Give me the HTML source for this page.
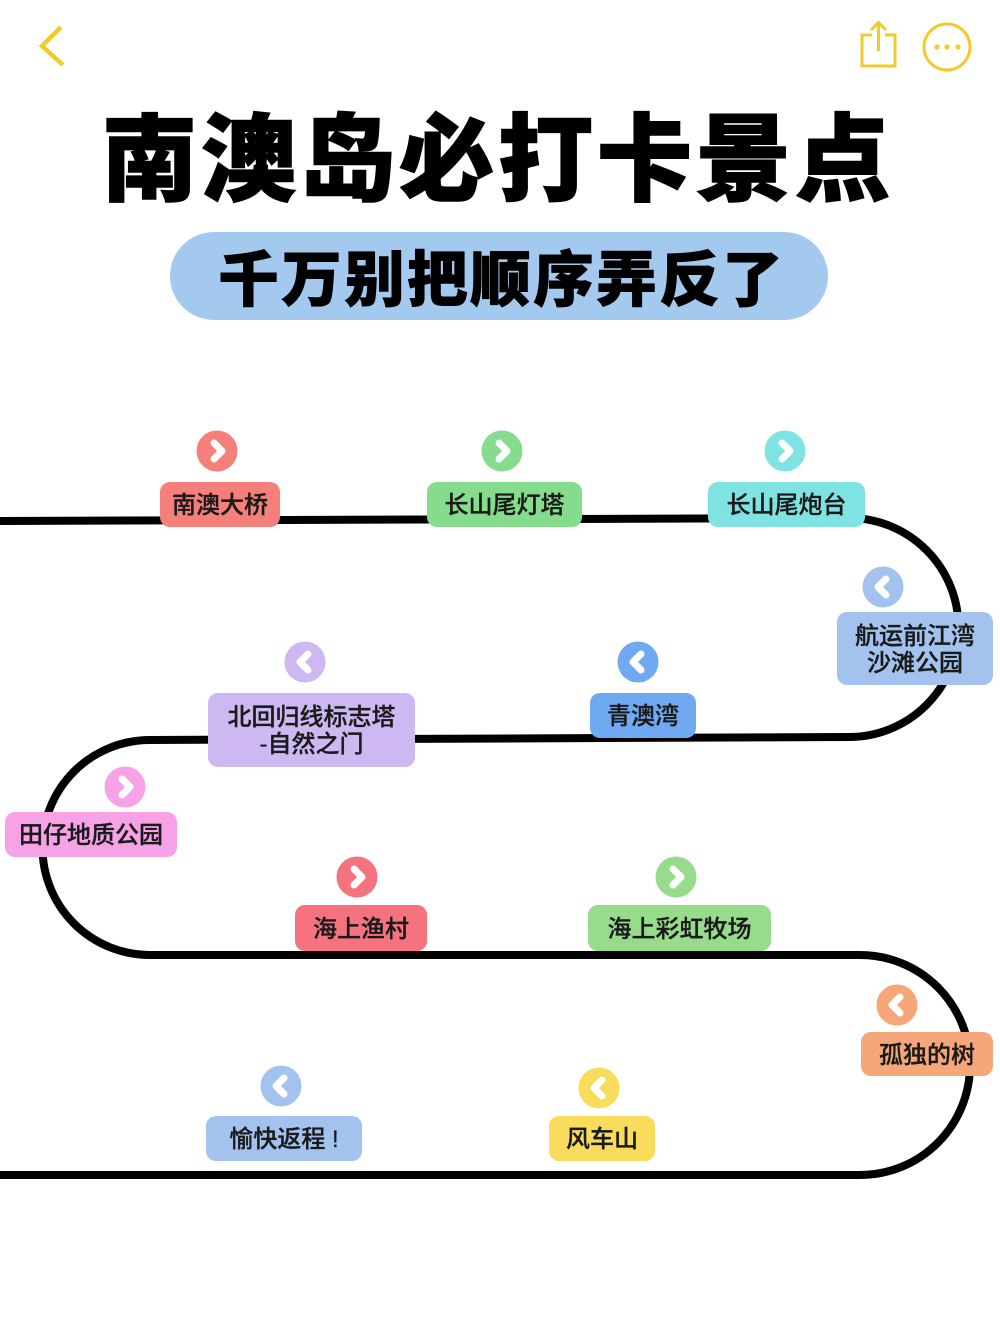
<!DOCTYPE html>
<html>
<head>
<meta charset="utf-8">
<style>
  html,body{margin:0;padding:0;background:#fff;}
  body{width:1000px;height:1333px;position:relative;overflow:hidden;
       font-family:"Liberation Sans","Noto Sans CJK SC",sans-serif;}
  .title{position:absolute;left:0;top:111px;width:996px;text-align:center;
         font-size:95px;line-height:100px;font-weight:900;color:#000;letter-spacing:4px;
         -webkit-text-stroke:1.5px #000;white-space:nowrap;
         font-family:"Liberation Sans","Noto Sans CJK SC",sans-serif;}
  .pill{position:absolute;left:170px;top:232px;width:658px;height:88px;
        background:#A4C9EF;border-radius:44px;}
  .sub{position:absolute;left:0;top:249px;width:1004px;text-align:center;
       font-size:60px;line-height:63px;font-weight:900;color:#000;letter-spacing:3px;
       -webkit-text-stroke:1px #000;white-space:nowrap;
       font-family:"Liberation Sans","Noto Sans CJK SC",sans-serif;}
  .lb{position:absolute;border-radius:10px;display:flex;align-items:center;
      justify-content:center;text-align:center;font-size:24px;line-height:27px;
      color:#1a1a1a;font-weight:500;white-space:nowrap;padding-top:2px;box-sizing:border-box;
      -webkit-text-stroke:0.3px #1a1a1a;
      font-family:"Liberation Sans","Noto Sans CJK SC",sans-serif;}
  svg{position:absolute;left:0;top:0;}
</style>
</head>
<body>
<svg width="1000" height="1333" viewBox="0 0 1000 1333">
  <!-- top bar icons -->
  <polyline points="61,27 42,46 63,65" fill="none" stroke="#EFCB2E" stroke-width="4.5" stroke-linejoin="miter"/>
  <path d="M872,35 H862 V66 H895 V35 H885" fill="none" stroke="#EFCB2E" stroke-width="3"/>
  <line x1="878.5" y1="23" x2="878.5" y2="51" stroke="#EFCB2E" stroke-width="3"/>
  <polyline points="871,30 878.5,22.5 886,30" fill="none" stroke="#EFCB2E" stroke-width="3"/>
  <circle cx="947" cy="47" r="23" fill="none" stroke="#EFCB2E" stroke-width="3"/>
  <circle cx="937" cy="47" r="2.6" fill="#EFCB2E"/>
  <circle cx="947" cy="47" r="2.6" fill="#EFCB2E"/>
  <circle cx="958" cy="47" r="2.6" fill="#EFCB2E"/>

  <!-- route path -->
  <path d="M0,521 L849,518 A109,109 0 0 1 849,737 L150,740 A107.5,107.5 0 0 0 150,955 L860,955 A110,110 0 0 1 860,1175 L0,1175"
        fill="none" stroke="#000" stroke-width="8"/>

  <!-- icons -->
  <g stroke="#fff" stroke-width="7" fill="none" stroke-linecap="round" stroke-linejoin="round">
    <circle cx="217" cy="451" r="20.5" fill="#F57F7A" stroke="none"/>
    <polyline points="214,443 222,451 214,459"/>
    <circle cx="502" cy="451" r="20.5" fill="#84DC8C" stroke="none"/>
    <polyline points="499,443 507,451 499,459"/>
    <circle cx="785" cy="451" r="20.5" fill="#80E3E3" stroke="none"/>
    <polyline points="782,443 790,451 782,459"/>
    <circle cx="883" cy="587" r="20.5" fill="#A3C3EE" stroke="none"/>
    <polyline points="886,579 878,587 886,595"/>
    <circle cx="638" cy="662" r="20.5" fill="#6EA9F2" stroke="none"/>
    <polyline points="641,654 633,662 641,670"/>
    <circle cx="305" cy="662" r="20.5" fill="#CDB8F2" stroke="none"/>
    <polyline points="308,654 300,662 308,670"/>
    <circle cx="125" cy="787" r="20.5" fill="#F7A1E6" stroke="none"/>
    <polyline points="122,779 130,787 122,795"/>
    <circle cx="357" cy="877" r="20.5" fill="#F5737F" stroke="none"/>
    <polyline points="354,869 362,877 354,885"/>
    <circle cx="676" cy="877" r="20.5" fill="#96DC8A" stroke="none"/>
    <polyline points="673,869 681,877 673,885"/>
    <circle cx="897" cy="1005" r="20.5" fill="#F6A77A" stroke="none"/>
    <polyline points="900,997 892,1005 900,1013"/>
    <circle cx="599" cy="1088" r="20.5" fill="#F9DC5C" stroke="none"/>
    <polyline points="602,1080 594,1088 602,1096"/>
    <circle cx="281" cy="1086" r="20.5" fill="#A3C3EE" stroke="none"/>
    <polyline points="284,1078 276,1086 284,1094"/>
  </g>
</svg>

<div class="title">南澳岛必打卡景点</div>
<div class="pill"></div>
<div class="sub">千万别把顺序弄反了</div>

<div class="lb" style="left:160px;top:482px;width:120px;height:45px;background:#F57F7A;">南澳大桥</div>
<div class="lb" style="left:427px;top:482px;width:155px;height:45px;background:#84DC8C;">长山尾灯塔</div>
<div class="lb" style="left:708px;top:482px;width:157px;height:45px;background:#80E3E3;">长山尾炮台</div>
<div class="lb" style="left:837px;top:612px;width:156px;height:73px;background:#A3C3EE;">航运前江湾<br>沙滩公园</div>
<div class="lb" style="left:590px;top:693px;width:106px;height:45px;background:#6EA9F2;">青澳湾</div>
<div class="lb" style="left:208px;top:693px;width:207px;height:74px;background:#CDB8F2;">北回归线标志塔<br>-自然之门</div>
<div class="lb" style="left:5px;top:812px;width:172px;height:45px;background:#F7A1E6;">田仔地质公园</div>
<div class="lb" style="left:295px;top:905px;width:132px;height:46px;background:#F5737F;">海上渔村</div>
<div class="lb" style="left:588px;top:905px;width:183px;height:46px;background:#96DC8A;">海上彩虹牧场</div>
<div class="lb" style="left:861px;top:1032px;width:132px;height:44px;background:#F6A77A;">孤独的树</div>
<div class="lb" style="left:549px;top:1116px;width:106px;height:45px;background:#F9DC5C;">风车山</div>
<div class="lb" style="left:206px;top:1116px;width:156px;height:45px;background:#A3C3EE;">愉快返程 !</div>
</body>
</html>
